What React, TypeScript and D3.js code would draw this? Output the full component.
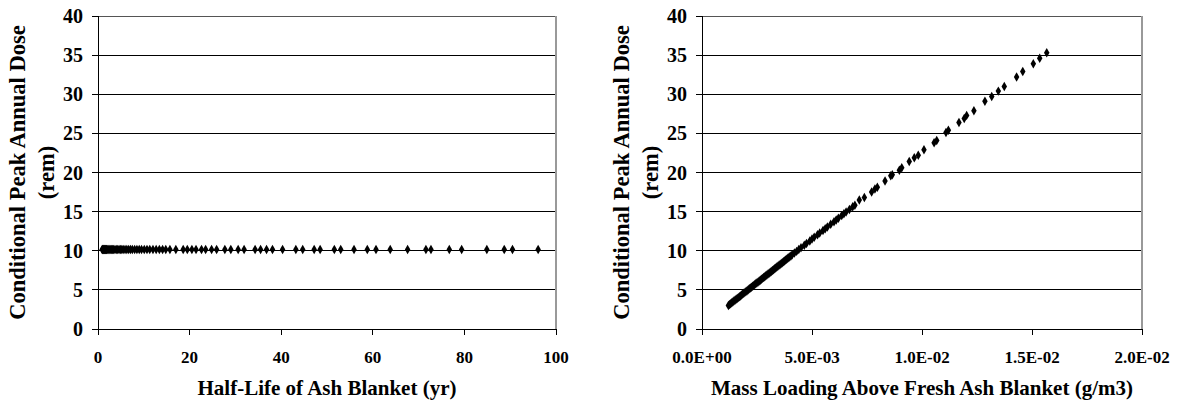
import React from "react";
import * as d3 from "d3";

// Left panel: half-life of ash blanket (yr) vs conditional peak annual dose (rem)
const halfLifePoints: [number, number][] = [
  [0.9, 10.15], [1.0, 10.15], [1.1, 10.15], [1.2, 10.15], [1.3, 10.15], [1.4, 10.15],
  [1.5, 10.15], [1.6, 10.15], [1.7, 10.15], [1.8, 10.15], [1.9, 10.15], [2.0, 10.15],
  [2.2, 10.15], [2.4, 10.15], [2.6, 10.15], [2.8, 10.15], [3.0, 10.15], [3.2, 10.15],
  [3.4, 10.15], [3.7, 10.15], [4.0, 10.15], [4.3, 10.15], [4.6, 10.15], [4.9, 10.15],
  [5.2, 10.15], [5.5, 10.15], [5.9, 10.15], [6.3, 10.15], [6.7, 10.15], [7.1, 10.15],
  [7.5, 10.15], [8.0, 10.15], [8.5, 10.15], [9.0, 10.15], [9.5, 10.15], [10.1, 10.15],
  [10.7, 10.15], [11.3, 10.15], [12.0, 10.15], [12.7, 10.15], [13.4, 10.15], [14.1, 10.15],
  [14.8, 10.15], [15.7, 10.15], [17.0, 10.15], [18.6, 10.15], [19.5, 10.15], [20.5, 10.15],
  [21.4, 10.15], [22.6, 10.15], [23.5, 10.15], [24.8, 10.15], [25.9, 10.15], [27.7, 10.15],
  [29.0, 10.15], [30.6, 10.15], [31.9, 10.15], [34.3, 10.15], [35.5, 10.15], [36.8, 10.15],
  [38.1, 10.15], [40.3, 10.15], [43.2, 10.15], [44.7, 10.15], [47.2, 10.15], [48.5, 10.15],
  [51.6, 10.15], [53.0, 10.15], [55.9, 10.15], [58.8, 10.15], [60.7, 10.15], [63.8, 10.15],
  [67.6, 10.15], [71.6, 10.15], [72.7, 10.15], [76.7, 10.15], [79.4, 10.15], [84.9, 10.15],
  [88.7, 10.15], [90.5, 10.15], [96.1, 10.15],
];

// Right panel: mass loading above fresh ash blanket (g/m3) vs dose (rem)
const massLoadingPoints: [number, number][] = [
  [0.00120, 3.01], [0.00125, 3.12], [0.00130, 3.23], [0.00135, 3.34], [0.00140, 3.45],
  [0.00145, 3.57], [0.00150, 3.68], [0.00155, 3.79], [0.00160, 3.90], [0.00165, 4.01],
  [0.00170, 4.12], [0.00175, 4.23], [0.00180, 4.35], [0.00185, 4.46], [0.00190, 4.57],
  [0.00195, 4.68], [0.00200, 4.79], [0.00205, 4.90], [0.00210, 5.02], [0.00215, 5.13],
  [0.00220, 5.24], [0.00225, 5.35], [0.00230, 5.46], [0.00235, 5.57], [0.00240, 5.68],
  [0.00245, 5.80], [0.00250, 5.91], [0.00255, 6.02], [0.00260, 6.13], [0.00265, 6.24],
  [0.00270, 6.35], [0.00275, 6.47], [0.00280, 6.58], [0.00285, 6.69], [0.00290, 6.80],
  [0.00295, 6.91], [0.00300, 7.02], [0.00305, 7.13], [0.00310, 7.25], [0.00315, 7.36],
  [0.00320, 7.47], [0.00325, 7.58], [0.00330, 7.69], [0.00335, 7.80], [0.00340, 7.92],
  [0.00345, 8.03], [0.00350, 8.14], [0.00355, 8.25], [0.00360, 8.36], [0.00365, 8.47],
  [0.00370, 8.58], [0.00375, 8.70], [0.00380, 8.81], [0.00385, 8.92], [0.00390, 9.03],
  [0.00395, 9.14], [0.00400, 9.25], [0.00405, 9.37], [0.00410, 9.48],
  [0.00420, 9.70], [0.00430, 9.92], [0.00440, 10.15], [0.00450, 10.37], [0.00465, 10.70],
  [0.00475, 10.93], [0.00490, 11.26], [0.00500, 11.49], [0.00510, 11.71], [0.00525, 12.04],
  [0.00535, 12.27], [0.00550, 12.60], [0.00560, 12.82], [0.00570, 13.05], [0.00585, 13.38],
  [0.00600, 13.72], [0.00610, 13.94], [0.00620, 14.16], [0.00635, 14.50], [0.00645, 14.72],
  [0.00655, 14.94], [0.00670, 15.28], [0.00685, 15.61], [0.00695, 15.83],
  [0.00715, 16.5], [0.00738, 16.8], [0.00771, 17.5], [0.00786, 17.9], [0.00797, 18.1],
  [0.00832, 18.9], [0.00858, 19.6], [0.00865, 19.7], [0.00897, 20.3], [0.00908, 20.6],
  [0.00942, 21.4], [0.00965, 21.9], [0.00983, 22.2], [0.01009, 22.9], [0.01055, 23.8],
  [0.01067, 24.1], [0.01109, 25.1], [0.01120, 25.4], [0.01168, 26.4], [0.01192, 26.9],
  [0.01203, 27.3], [0.01236, 27.9], [0.01286, 29.1], [0.01317, 29.7], [0.01347, 30.4],
  [0.01374, 31.0], [0.01430, 32.2], [0.01458, 32.9], [0.01506, 33.9], [0.01535, 34.6],
  [0.01567, 35.3],
];

const doseTicks = [0, 5, 10, 15, 20, 25, 30, 35, 40];
const halfLifeTicks = [0, 20, 40, 60, 80, 100];
const massTicks = [0, 0.005, 0.01, 0.015, 0.02];
const massTickLabels = ["0.0E+00", "5.0E-03", "1.0E-02", "1.5E-02", "2.0E-02"];

const yTitleLines = ["Conditional Peak Annual Dose", "(rem)"];

const FONT = "'Liberation Serif', 'Times New Roman', serif";

type PanelProps = {
  left: number;
  right: number;
  top: number;
  bottom: number;
  xDomain: [number, number];
  xTicks: number[];
  xLabels: string[];
  xTitle: string;
  points: [number, number][];
};

function Panel({ left, right, top, bottom, xDomain, xTicks, xLabels, xTitle, points }: PanelProps) {
  const x = d3.scaleLinear().domain(xDomain).range([left, right]);
  const y = d3.scaleLinear().domain([0, 40]).range([bottom, top]);
  const diamond = d3.symbol().type(d3.symbolDiamond).size(26)() as string;
  const midY = (top + bottom) / 2;
  const midX = (left + right) / 2;

  return (
    <g fontFamily={FONT} fontWeight="bold" fill="#000">
      {/* horizontal gridlines */}
      {doseTicks.map((t) => (
        <line key={"g" + t} x1={left} x2={right} y1={y(t)} y2={y(t)} stroke={t === 40 ? "#555" : "#000"} strokeWidth={1} shapeRendering="crispEdges" />
      ))}
      {/* plot-area border on the right */}
      <line x1={right} x2={right} y1={top} y2={bottom} stroke="#999" strokeWidth={1.5} shapeRendering="crispEdges" />
      {/* y axis */}
      <line x1={left} x2={left} y1={top} y2={bottom} stroke="#000" strokeWidth={1} shapeRendering="crispEdges" />
      {doseTicks.map((t) => (
        <g key={"y" + t}>
          <line x1={left - 6} x2={left} y1={y(t)} y2={y(t)} stroke="#000" shapeRendering="crispEdges" />
          <text x={left - 15} y={y(t)} dy="0.35em" textAnchor="end" fontSize={20}>
            {t}
          </text>
        </g>
      ))}
      {/* x axis */}
      <line x1={left} x2={right} y1={bottom} y2={bottom} stroke="#000" shapeRendering="crispEdges" />
      {xTicks.map((t, i) => (
        <g key={"x" + t}>
          <line x1={x(t)} x2={x(t)} y1={bottom} y2={bottom + 6} stroke="#000" shapeRendering="crispEdges" />
          <text x={x(t)} y={363} textAnchor="middle" fontSize={17}>
            {xLabels[i]}
          </text>
        </g>
      ))}
      {/* markers */}
      {points.map(([px, py], i) => (
        <path key={"p" + i} d={diamond} transform={`translate(${x(px)},${y(py)})`} fill="#000" />
      ))}
      {/* axis titles */}
      <text x={midX} y={395} textAnchor="middle" fontSize={21}>
        {xTitle}
      </text>
      <text transform={`translate(${left - 73},${midY}) rotate(-90)`} textAnchor="middle" fontSize={22.5}>
        {yTitleLines[0]}
      </text>
      <text transform={`translate(${left - 44},${midY}) rotate(-90)`} textAnchor="middle" fontSize={22.5}>
        {yTitleLines[1]}
      </text>
    </g>
  );
}

export default function App() {
  return (
    <svg
      width={1179}
      height={405}
      style={{ position: "absolute", left: 0, top: 0, background: "#fff" }}
    >
      <rect width={1179} height={405} fill="#fff" />
      <Panel
        left={98}
        right={556}
        top={16}
        bottom={329}
        xDomain={[0, 100]}
        xTicks={halfLifeTicks}
        xLabels={halfLifeTicks.map(String)}
        xTitle="Half-Life of Ash Blanket (yr)"
        points={halfLifePoints}
      />
      <Panel
        left={702}
        right={1142}
        top={16}
        bottom={329}
        xDomain={[0, 0.02]}
        xTicks={massTicks}
        xLabels={massTickLabels}
        xTitle="Mass Loading Above Fresh Ash Blanket (g/m3)"
        points={massLoadingPoints}
      />
    </svg>
  );
}
